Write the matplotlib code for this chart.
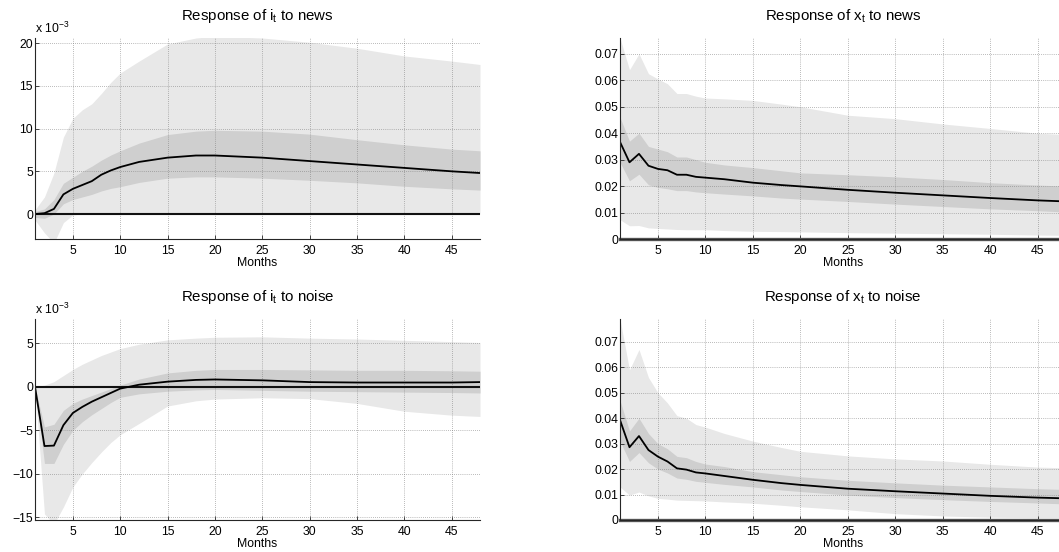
import matplotlib
matplotlib.use('Agg')
import matplotlib.pyplot as plt
from matplotlib.ticker import FixedLocator, FuncFormatter

plt.rcParams['font.family'] = ['Liberation Sans', 'DejaVu Sans']
plt.rcParams['mathtext.default'] = 'regular'

# ---------------- data ----------------
months = [1, 2, 3, 4, 5, 6, 7, 8, 9, 10, 12, 15, 18, 20, 25, 30, 35, 40, 45, 48]

# Response of i_t to news (x 1e-3)
i_news_med = [0.0, 0.1, 0.6, 2.3, 2.95, 3.4, 3.85, 4.6, 5.1, 5.5, 6.1, 6.6, 6.85, 6.85, 6.6, 6.2, 5.8, 5.4, 5.0, 4.8]
i_news_hi68 = [0.3, 0.6, 1.7, 3.6, 4.3, 5.0, 5.6, 6.3, 6.9, 7.4, 8.3, 9.3, 9.7, 9.8, 9.7, 9.35, 8.7, 8.1, 7.6, 7.4]
i_news_lo68 = [-0.4, -0.5, 0.0, 1.2, 1.7, 2.0, 2.3, 2.7, 3.0, 3.2, 3.7, 4.2, 4.35, 4.35, 4.2, 3.95, 3.65, 3.25, 2.95, 2.8]
i_news_hi90 = [0.5, 2.0, 4.8, 9.0, 11.2, 12.2, 12.9, 14.1, 15.4, 16.5, 17.9, 19.9, 20.6, 20.8, 20.6, 20.1, 19.4, 18.5, 17.9, 17.5]
i_news_lo90 = [-0.7, -2.2, -3.4, -1.0, -0.1, 0.0, 0.0, 0.0, 0.0, 0.0, 0.0, 0.0, 0.0, 0.0, 0.0, 0.0, 0.0, 0.0, 0.0, 0.0]

# Response of x_t to news
x_news_med = [0.0367, 0.029, 0.0322, 0.0277, 0.0265, 0.026, 0.0243, 0.0243, 0.0235, 0.0232, 0.0226, 0.0213, 0.0204, 0.0199, 0.0186, 0.0175, 0.0165, 0.0155, 0.0146, 0.0142]
x_news_hi68 = [0.046, 0.037, 0.040, 0.035, 0.034, 0.033, 0.031, 0.031, 0.030, 0.029, 0.028, 0.027, 0.0258, 0.025, 0.0243, 0.0235, 0.0225, 0.0213, 0.0204, 0.0200]
x_news_lo68 = [0.029, 0.022, 0.0245, 0.0205, 0.0195, 0.019, 0.0183, 0.0183, 0.0178, 0.0175, 0.017, 0.0163, 0.0155, 0.0151, 0.0142, 0.0132, 0.0123, 0.0114, 0.0107, 0.0102]
x_news_hi90 = [0.076, 0.064, 0.070, 0.0625, 0.0605, 0.0587, 0.055, 0.055, 0.054, 0.0533, 0.053, 0.0524, 0.051, 0.050, 0.0468, 0.0455, 0.0435, 0.0418, 0.040, 0.0395]
x_news_lo90 = [0.0073, 0.005, 0.0051, 0.0042, 0.004, 0.0038, 0.0036, 0.0035, 0.0035, 0.0035, 0.0032, 0.0029, 0.0028, 0.0027, 0.0024, 0.0022, 0.002, 0.0018, 0.0015, 0.0014]

# Response of i_t to noise (x 1e-3)
i_noise_med = [0.0, -6.8, -6.75, -4.4, -3.0, -2.3, -1.7, -1.2, -0.7, -0.2, 0.25, 0.6, 0.8, 0.85, 0.75, 0.55, 0.5, 0.5, 0.5, 0.55]
i_noise_hi68 = [0.0, -4.6, -4.3, -2.7, -1.9, -1.4, -1.0, -0.6, -0.2, 0.2, 0.9, 1.6, 1.9, 2.0, 2.0, 1.95, 1.9, 1.9, 1.85, 1.8]
i_noise_lo68 = [0.0, -8.8, -8.8, -6.6, -5.0, -4.0, -3.2, -2.5, -1.8, -1.2, -0.8, -0.5, -0.35, -0.3, -0.4, -0.5, -0.55, -0.6, -0.65, -0.7]
i_noise_hi90 = [0.0, 0.2, 0.6, 1.3, 2.0, 2.6, 3.1, 3.6, 4.0, 4.4, 4.9, 5.4, 5.6, 5.7, 5.75, 5.6, 5.5, 5.35, 5.2, 5.1]
i_noise_lo90 = [0.0, -14.6, -15.8, -13.8, -11.5, -10.0, -8.7, -7.5, -6.4, -5.5, -4.2, -2.2, -1.6, -1.4, -1.25, -1.35, -1.9, -2.8, -3.25, -3.4]

# Response of x_t to noise
x_noise_med = [0.0393, 0.0286, 0.033, 0.0275, 0.0249, 0.0230, 0.0203, 0.0198, 0.0187, 0.0183, 0.0173, 0.0158, 0.0145, 0.0138, 0.0123, 0.0113, 0.0104, 0.0095, 0.0088, 0.0085]
x_noise_hi68 = [0.047, 0.035, 0.040, 0.034, 0.030, 0.028, 0.025, 0.0245, 0.023, 0.022, 0.021, 0.019, 0.0178, 0.017, 0.0156, 0.0146, 0.0137, 0.013, 0.0123, 0.012]
x_noise_lo68 = [0.031, 0.023, 0.0265, 0.0225, 0.020, 0.0185, 0.0165, 0.016, 0.0152, 0.0148, 0.014, 0.013, 0.0118, 0.0112, 0.0098, 0.0088, 0.008, 0.0073, 0.0067, 0.0063]
x_noise_hi90 = [0.079, 0.059, 0.067, 0.056, 0.050, 0.046, 0.041, 0.040, 0.0375, 0.0365, 0.034, 0.031, 0.0285, 0.027, 0.0252, 0.024, 0.0232, 0.0219, 0.0208, 0.0205]
x_noise_lo90 = [0.013, 0.0098, 0.011, 0.0095, 0.0085, 0.0082, 0.0078, 0.0077, 0.0076, 0.0075, 0.0071, 0.0066, 0.0058, 0.0052, 0.004, 0.0025, 0.0016, 0.0011, 0.0009, 0.0009]

titles = ['Response of i$_t$ to news', 'Response of x$_t$ to news',
          'Response of i$_t$ to noise', 'Response of x$_t$ to noise']
xticks = [5, 10, 15, 20, 25, 30, 35, 40, 45]
yticks_i_news = [0, 5, 10, 15, 20]
yticks_i_noise = [-15, -10, -5, 0, 5]
yticks_x = [0, 0.01, 0.02, 0.03, 0.04, 0.05, 0.06, 0.07]
x_label = 'Months'
scale_label = 'x 10$^{-3}$'

# ---------------- layout ----------------
W, H = 1059, 552
fig = plt.figure(figsize=(W / 100, H / 100), dpi=100)


def axpos(l, t, w, h):
    return [l / W, 1 - (t + h) / H, w / W, h / H]


panels = [
    dict(pos=(35, 38, 445, 201), title=titles[0],
         series=(i_news_med, i_news_lo68, i_news_hi68, i_news_lo90, i_news_hi90),
         ylim=(-2.92, 20.6), yticks=yticks_i_news, scaled=True),
    dict(pos=(620, 38, 446, 201), title=titles[1],
         series=(x_news_med, x_news_lo68, x_news_hi68, x_news_lo90, x_news_hi90),
         ylim=(0, 0.076), yticks=yticks_x, scaled=False),
    dict(pos=(35, 319, 445, 201), title=titles[2],
         series=(i_noise_med, i_noise_lo68, i_noise_hi68, i_noise_lo90, i_noise_hi90),
         ylim=(-15.3, 7.8), yticks=yticks_i_noise, scaled=True),
    dict(pos=(620, 319, 446, 201), title=titles[3],
         series=(x_noise_med, x_noise_lo68, x_noise_hi68, x_noise_lo90, x_noise_hi90),
         ylim=(0, 0.079), yticks=yticks_x, scaled=False),
]

light = '#e8e8e8'
dark = '#cfcfcf'


def xfmt(v, p):
    return '0' if v == 0 else '%.2f' % v


for p in panels:
    ax = fig.add_axes(axpos(*p['pos']))
    med, lo68, hi68, lo90, hi90 = p['series']
    ax.fill_between(months, lo90, hi90, color=light, lw=0, zorder=1)
    ax.fill_between(months, lo68, hi68, color=dark, lw=0, zorder=1.1)
    if p['scaled']:
        ax.axhline(0, color='#111111', lw=1.5, zorder=2.8)
    else:
        ax.axhline(0, color='#555555', lw=2.4, zorder=2.8, clip_on=False)
        ax.axhline(0, color='#222222', lw=0.6, zorder=2.9, clip_on=False)
    ax.plot(months, med, color='black', lw=1.3, zorder=3)

    ax.set_xlim(1, 48)
    ax.set_ylim(*p['ylim'])
    ax.xaxis.set_major_locator(FixedLocator(xticks))
    ax.yaxis.set_major_locator(FixedLocator(p['yticks']))
    if not p['scaled']:
        ax.yaxis.set_major_formatter(FuncFormatter(xfmt))

    ax.set_axisbelow(False)
    ax.grid(True, linestyle=(0, (1, 2)), color='#7a7a7a', lw=0.5)
    for s in ('top', 'right'):
        ax.spines[s].set_visible(False)
    for s in ('left', 'bottom'):
        ax.spines[s].set_color('#262626')
        ax.spines[s].set_linewidth(0.8)
        ax.spines[s].set_zorder(4)
    ax.tick_params(direction='in', length=3, width=0.6, colors='#262626',
                   labelcolor='black', labelsize=8.8)
    ax.tick_params(axis='y', pad=1.5)
    ax.tick_params(axis='x', pad=4.5)
    ax.set_xlabel(x_label, fontsize=8.8, labelpad=-0.5)
    ax.set_title(p['title'], fontsize=10.8, pad=13)
    if p['scaled']:
        ax.annotate(scale_label, xy=(0, 1), xycoords='axes fraction',
                    xytext=(0, 3.5), textcoords='offset points',
                    fontsize=8.8, ha='left', va='baseline')

fig.savefig('out.png', dpi=100)
